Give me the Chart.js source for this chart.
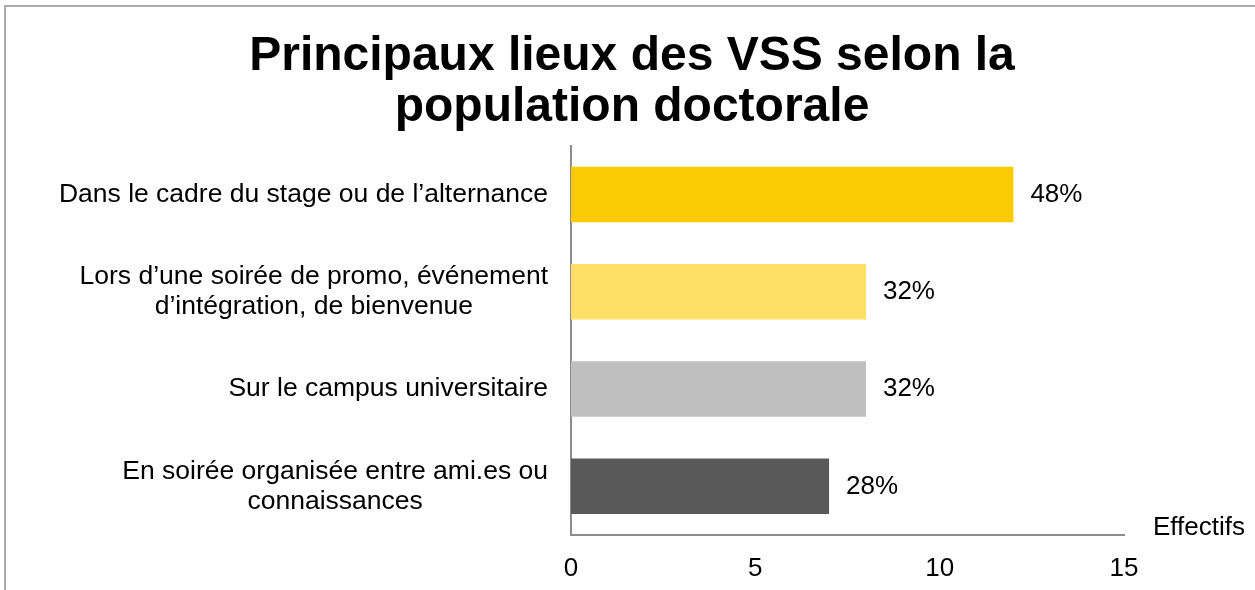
<!DOCTYPE html>
<html lang="fr">
<head>
<meta charset="utf-8">
<title>Principaux lieux des VSS selon la population doctorale</title>
<script src="https://cdn.jsdelivr.net/npm/chart.js@4/dist/chart.umd.min.js"></script>
<style>
  html, body { margin: 0; padding: 0; background: #fff; }
  #chart { display: block; }
</style>
</head>
<body>
<canvas id="chart" width="1255" height="590"></canvas>
<script>
const FONT = "'Liberation Sans', Arial, sans-serif";

const categories = [
  ['Dans le cadre du stage ou de l’alternance'],
  ['Lors d’une soirée de promo, événement', 'd’intégration, de bienvenue'],
  ['Sur le campus universitaire'],
  ['En soirée organisée entre ami.es ou', 'connaissances']
];
const counts = [12, 8, 8, 7];
const percents = [48, 32, 32, 28];
const barColors = ['#FBCA00', '#FFE066', '#BFBFBF', '#595959'];
const xTicks = [0, 5, 10, 15];
const xTitle = 'Effectifs';

// category labels: block right-aligned against the axis, lines centred inside it
const categoryLabels = {
  id: 'categoryLabels',
  afterDraw(chart) {
    const ctx = chart.ctx;
    const y = chart.scales.y;
    const right = chart.chartArea.left - 23;
    ctx.save();
    ctx.font = '26.5px ' + FONT;
    ctx.fillStyle = '#000';
    ctx.textAlign = 'center';
    ctx.textBaseline = 'middle';
    categories.forEach((lines, i) => {
      const w = Math.max(...lines.map(l => ctx.measureText(l).width));
      const cx = right - w / 2;
      const cy = y.getPixelForTick(i);
      const lh = 30;
      lines.forEach((l, j) => {
        ctx.fillText(l, cx, cy + (j - (lines.length - 1) / 2) * lh);
      });
    });
    ctx.restore();
  }
};

// percentage next to each bar, axis title, and the outer frame
const extras = {
  id: 'extras',
  afterDraw(chart) {
    const ctx = chart.ctx;
    const area = chart.chartArea;
    ctx.save();
    ctx.font = '26px ' + FONT;
    ctx.fillStyle = '#000';
    ctx.textAlign = 'left';
    ctx.textBaseline = 'middle';
    chart.getDatasetMeta(0).data.forEach((bar, i) => {
      ctx.fillText(percents[i] + '%', bar.x + 17, bar.y);
    });
    ctx.fillText(xTitle, chart.scales.x.right + 29, area.bottom - 7);

    ctx.strokeStyle = '#ABABAB';
    ctx.lineWidth = 2;
    ctx.beginPath();
    ctx.moveTo(5, 590);
    ctx.lineTo(5, 6);
    ctx.lineTo(1255, 6);
    ctx.stroke();
    ctx.restore();
  }
};

new Chart(document.getElementById('chart'), {
  type: 'bar',
  data: {
    labels: categories,
    datasets: [{
      data: counts,
      backgroundColor: barColors,
      borderWidth: 0,
      barPercentage: 0.57,
      categoryPercentage: 1
    }]
  },
  options: {
    indexAxis: 'y',
    responsive: false,
    animation: false,
    layout: { padding: { left: 140, right: 131, top: 0, bottom: 0 } },
    plugins: {
      legend: { display: false },
      tooltip: { enabled: false },
      title: {
        display: true,
        text: ['Principaux lieux des VSS selon la', 'population doctorale'],
        color: '#000',
        font: { family: FONT, size: 48, weight: 'bold', lineHeight: 1.05 },
        padding: { top: 32, bottom: 13 }
      }
    },
    scales: {
      x: {
        min: 0,
        max: 15,
        afterBuildTicks: scale => { scale.ticks = xTicks.map(v => ({ value: v })); },
        afterFit: scale => { scale.height = 55; },
        grid: { display: false, drawTicks: false },
        border: { display: true, color: '#8C8C8C', width: 2 },
        ticks: { color: '#000', font: { family: FONT, size: 26 }, padding: 18, maxRotation: 0 }
      },
      y: {
        afterFit: scale => { scale.width = 431; },
        grid: { display: false, drawTicks: false },
        border: { display: true, color: '#8C8C8C', width: 2 },
        ticks: { display: false }
      }
    }
  },
  plugins: [categoryLabels, extras]
});
</script>
</body>
</html>
